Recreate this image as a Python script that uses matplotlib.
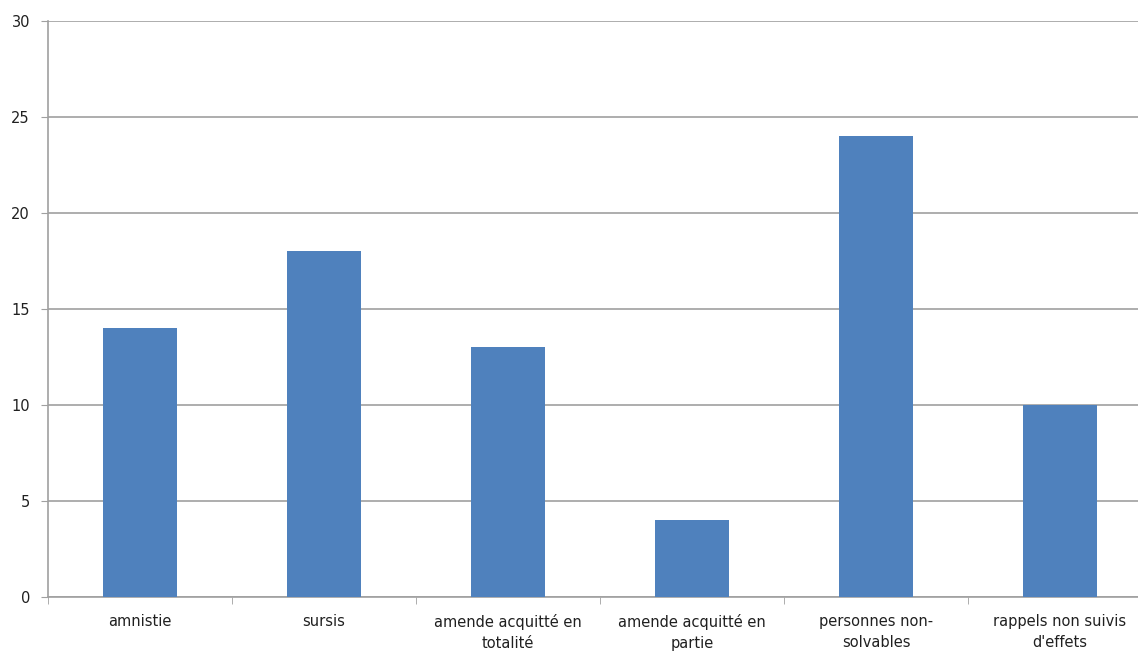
import matplotlib.pyplot as plt

categories = ["amnistie", "sursis", "amende acquitté en\ntotalité",
              "amende acquitté en\npartie", "personnes non-\nsolvables",
              "rappels non suivis\nd'effets"]
values = [14, 18, 13, 4, 24, 10]
yticks = [0, 5, 10, 15, 20, 25, 30]

fig = plt.figure(figsize=(11.38, 6.54), dpi=100)
ax = fig.add_axes([48 / 1138, 57 / 654, 1104 / 1138, 576 / 654])

x = range(len(categories))
ax.bar(x, values, width=0.40, color="#4F81BD", zorder=3)

ax.set_xlim(-0.5, len(categories) - 0.5)
ax.set_ylim(0, 30)
ax.set_yticks(yticks)
ax.yaxis.grid(True, color="#A0A0A0", linewidth=1.2, zorder=0)

# category labels centred, tick marks between categories
ax.set_xticks(list(x))
ax.set_xticklabels(categories, fontsize=10.5, color="#202020", linespacing=1.55)
ax.tick_params(axis="x", length=0, pad=12)
ax.set_xticks([i - 0.5 for i in range(len(categories) + 1)], minor=True)
ax.tick_params(axis="x", which="minor", length=5, color="#A0A0A0", direction="out")
ax.tick_params(axis="y", length=5, color="#A0A0A0", labelsize=10.5,
               labelcolor="#202020", pad=8)

for side in ["top", "right"]:
    ax.spines[side].set_visible(False)
for side in ["left", "bottom"]:
    ax.spines[side].set_color("#A0A0A0")
    ax.spines[side].set_linewidth(1.2)

fig.savefig("out.png", dpi=100)
